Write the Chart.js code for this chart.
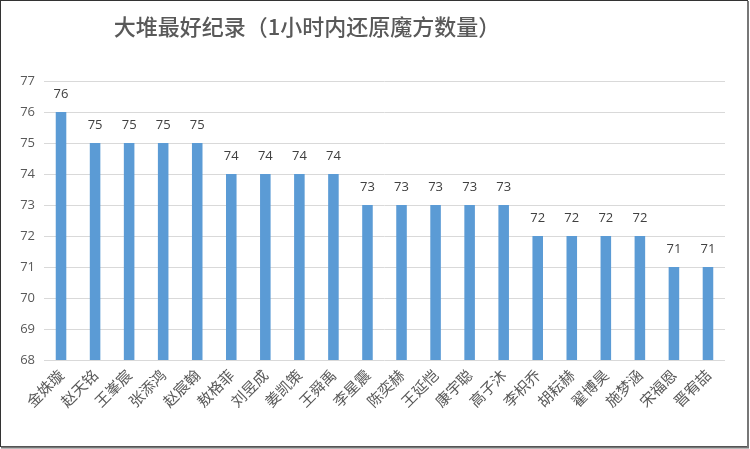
<!DOCTYPE html>
<html>
<head>
<meta charset="utf-8">
<script src="https://cdn.jsdelivr.net/npm/chart.js@4"></script>
<style>
html,body{margin:0;padding:0;background:#fff;}
#wrap{width:750px;height:449px;position:relative;}
</style>
</head>
<body>
<div id="wrap"><canvas id="c" width="750" height="449"></canvas></div>
<script>
const chartTitle = "大堆最好纪录（1小时内还原魔方数量）";
const names = ["金姝璇","赵天铭","王峯宸","张添鸿","赵宸翰","敖格菲","刘昱成","姜凯策","王舜禹","李星震","陈奕赫","王延恺","康宇聪","高子沐","李枳乔","胡耘赫","翟博昊","施梦涵","宋福恩","晋宥喆"];
const values = [76,75,75,75,75,74,74,74,74,73,73,73,73,73,72,72,72,72,71,71];
const yMin = 68, yMax = 77;

const decor = {
  id: 'decor',
  afterDatasetsDraw(chart) {
    const ctx = chart.ctx;
    const meta = chart.getDatasetMeta(0);
    ctx.save();
    ctx.fillStyle = '#404040';
    ctx.font = '13px "Open Sans", "Liberation Sans", sans-serif';
    ctx.textAlign = 'center';
    ctx.textBaseline = 'middle';
    meta.data.forEach((bar, i) => {
      ctx.fillText(String(values[i]), bar.x, bar.y - 18);
    });
    ctx.restore();
  },
  afterDraw(chart) {
    const ctx = chart.ctx;
    ctx.save();
    ctx.fillStyle = '#595959';
    ctx.font = '500 22px "Noto Sans CJK SC", sans-serif';
    ctx.textAlign = 'center';
    ctx.textBaseline = 'middle';
    ctx.fillText(chartTitle, 307, 27);
    // border
    ctx.strokeStyle = '#333';
    ctx.lineWidth = 1;
    ctx.strokeRect(0.5, 0.5, 747, 446);
    ctx.strokeStyle = '#777';
    ctx.lineWidth = 2;
    ctx.beginPath();
    ctx.moveTo(748, 1); ctx.lineTo(748, 448);
    ctx.moveTo(1, 447.5); ctx.lineTo(749, 447.5);
    ctx.stroke();
    ctx.restore();
  }
};

new Chart(document.getElementById('c'), {
  type: 'bar',
  data: {
    labels: names,
    datasets: [{
      data: values,
      backgroundColor: '#5b9bd5',
      borderWidth: 0,
      barPercentage: 0.31,
      categoryPercentage: 1.0
    }]
  },
  options: {
    responsive: false,
    animation: false,
    devicePixelRatio: 1,
    layout: { padding: { top: 81, left: 0, right: 25, bottom: 0 } },
    plugins: {
      legend: { display: false },
      title: { display: false },
      tooltip: { enabled: false }
    },
    scales: {
      x: {
        grid: { display: false, drawTicks: false },
        border: { display: false },
        ticks: {
          color: '#595959',
          font: { family: '"Noto Sans CJK SC", sans-serif', size: 15 },
          minRotation: 45, maxRotation: 45,
          padding: 6,
          autoSkip: false
        },
        afterFit(scale) { scale.height = 89; }
      },
      y: {
        min: yMin, max: yMax,
        grid: { color: '#d9d9d9', lineWidth: 1, drawTicks: false },
        border: { display: false },
        ticks: {
          stepSize: 1,
          color: '#595959',
          font: { family: '"Open Sans", "Liberation Sans", sans-serif', size: 13 },
          padding: 9
        },
        afterFit(scale) { scale.width = 44; }
      }
    }
  },
  plugins: [decor]
});
</script>
</body>
</html>
